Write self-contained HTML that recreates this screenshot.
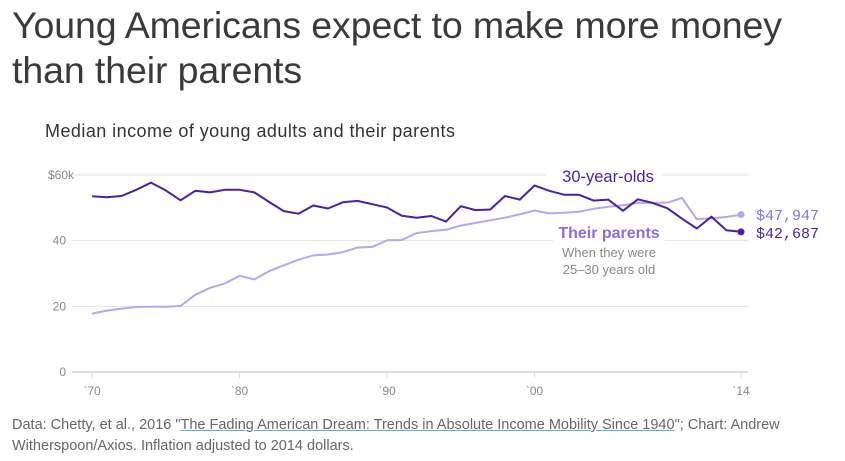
<!DOCTYPE html>
<html><head><meta charset="utf-8"><style>
body{margin:0;background:#fff;width:845px;height:461px;overflow:hidden;font-family:"Liberation Sans",sans-serif;}
#title{position:absolute;left:12px;top:3px;font-size:37.5px;line-height:45px;color:#3a3a3a;letter-spacing:-0.1px;margin:0;font-weight:normal;white-space:nowrap;}
#sub{position:absolute;left:45px;top:121px;font-size:18px;letter-spacing:0.45px;color:#333;white-space:nowrap;}
#note{position:absolute;left:12px;top:415px;font-size:14.5px;line-height:21px;color:#666;width:820px;}
#note a{color:#666;text-decoration:underline;text-decoration-color:#5ab0d6;}
svg{position:absolute;left:0;top:0;}
</style></head><body>
<h1 id="title">Young Americans expect to make more money<br>than their parents</h1>
<div id="sub">Median income of young adults and their parents</div>
<svg id="chart" width="845" height="461"></svg>
<div id="note">Data: Chetty, et al., 2016 "<a>The Fading American Dream: Trends in Absolute Income Mobility Since 1940</a>"; Chart: Andrew Witherspoon/Axios. Inflation adjusted to 2014 dollars.</div>
<script>
const years=[1970,1971,1972,1973,1974,1975,1976,1977,1978,1979,1980,1981,1982,1983,1984,1985,1986,1987,1988,1989,1990,1991,1992,1993,1994,1995,1996,1997,1998,1999,2000,2001,2002,2003,2004,2005,2006,2007,2008,2009,2010,2011,2012,2013,2014];
const kids=[53.5,53.2,53.6,55.5,57.7,55.3,52.3,55.2,54.7,55.5,55.5,54.7,51.8,49,48.2,50.7,49.8,51.7,52.1,51.1,50.1,47.6,47,47.5,45.8,50.5,49.3,49.5,53.6,52.5,56.8,55.2,54,54,52.2,52.5,49.1,52.6,51.5,49.9,46.7,43.7,47.3,43.2,42.687];
const parents=[17.8,18.7,19.3,19.8,19.9,19.9,20.1,23.5,25.6,27.0,29.3,28.2,30.7,32.5,34.2,35.5,35.8,36.5,37.9,38.1,40.1,40.2,42.3,42.9,43.3,44.6,45.4,46.2,47,48,49.2,48.3,48.5,48.8,49.7,50.3,50.8,51.5,51.5,51.6,53,46.5,46.8,47.2,47.947];
const yTicks=[0,20,40,60];
const yTickLabels=["0","20","40","$60k"];
const xTicks=[1970,1980,1990,2000,2014];
const xTickLabels=["`70","`80","`90","`00","`14"];
const NS="http://www.w3.org/2000/svg";
const svg=document.getElementById('chart');
const x=v=>92+(v-1970)*(741-92)/44;
const y=v=>372-v*(372-175)/60;
function mk(t,a,p){const e=document.createElementNS(NS,t);for(const k in a)e.setAttribute(k,a[k]);(p||svg).appendChild(e);return e;}
yTicks.forEach((t,i)=>{
 const g=mk('line',{x1:72,x2:748,y1:y(t),y2:y(t),stroke:i==0?'#ddd':'#e3e3e3','stroke-width':i==0?2:1});
 
 
 const l=mk('text',{x:i==3?74:66,y:y(t)+4,'text-anchor':'end','font-size':12,fill:'#888','font-family':'Liberation Sans, sans-serif'});
 l.textContent=yTickLabels[i];
 
 
});
xTicks.forEach((t,i)=>{
 const tk=mk('line',{x1:x(t),x2:x(t),y1:372,y2:378,stroke:'#ddd'});
 
 
 const l=mk('text',{x:x(t),y:395,'text-anchor':'middle','font-size':12,fill:'#888','font-family':'Liberation Sans, sans-serif'});
 l.textContent=xTickLabels[i];
 
 
});
const bg1=mk('rect',{x:546,y:163,width:116,height:24,fill:'#fff'});


const bg2=mk('rect',{x:553,y:222,width:112,height:56,fill:'#fff'});


function line(vals,color,name){
 const d=vals.map((v,i)=>(i?'L':'M')+x(years[i]).toFixed(1)+','+y(v).toFixed(1)).join('');
 const p=mk('path',{d:d,fill:'none',stroke:color,'stroke-width':2,'stroke-linejoin':'round'});
 
 
 const n=vals.length-1;
 const c=mk('circle',{cx:x(years[n]),cy:y(vals[n]),r:3.5,fill:color});
 
 
}
line(parents,'#b4a7f0','parents-line');
line(kids,'#4b1fa6','thirty-year-olds-line');
function txt(s,a,name){const t=mk('text',Object.assign({'font-family':'Liberation Sans, sans-serif'},a));t.textContent=s;
 
 return t;}
txt('30-year-olds',{x:608,y:182,'text-anchor':'middle','font-size':16.5,fill:'#4b1fa6'},'series-label-kids');
txt('Their parents',{x:609,y:238,'text-anchor':'middle','font-size':16,'font-weight':'bold',fill:'#8a6fdc'},'series-label-parents');
txt('When they were',{x:609,y:257,'text-anchor':'middle','font-size':13,fill:'#888'},'parents-note');
txt('25–30 years old',{x:609,y:274,'text-anchor':'middle','font-size':13,fill:'#888'},'parents-note');
txt('$'+Math.round(parents[parents.length-1]*1000).toLocaleString('en-US'),{x:756,y:220,'font-size':15,fill:'#8a6fdc','font-family':'Liberation Mono, monospace'},'parents-end-value');
txt('$'+Math.round(kids[kids.length-1]*1000).toLocaleString('en-US'),{x:756,y:238,'font-size':15,fill:'#4b1fa6','font-family':'Liberation Mono, monospace'},'kids-end-value');
</script>
</body></html>
